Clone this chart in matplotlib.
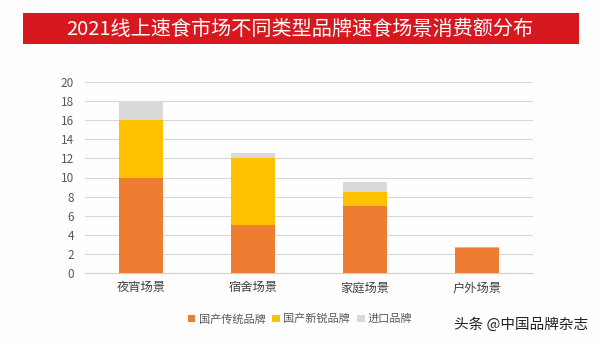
import numpy as np
import matplotlib
matplotlib.use("Agg")
import matplotlib.pyplot as plt
from matplotlib.patches import Rectangle, Patch

plt.rcParams['font.family'] = ['Noto Sans CJK SC', 'DejaVu Sans']

# data
categories = ['夜宵场景', '宿舍场景', '家庭场景', '户外场景']
series_names = ['国产传统品牌', '国产新锐品牌', '进口品牌']
traditional = [10, 5, 7, 2.6]
new_brand = [6, 7, 1.5, 0.1]
imported = [2, 0.6, 1, 0]
yticks = [0, 2, 4, 6, 8, 10, 12, 14, 16, 18, 20]

colors = ['#ED7D31', '#FFC000', '#D9D9D9']
title = '2021线上速食市场不同类型品牌速食场景消费额分布'
watermark = '头条 @中国品牌杂志'

fig = plt.figure(figsize=(6, 3.44), dpi=100)
fig.patch.set_facecolor('#FEFEFE')

# red title banner
fig.patches.append(Rectangle((23/600, 1-44/344), 556/600, 31/344,
                             transform=fig.transFigure, facecolor='#D7181F',
                             edgecolor='none', zorder=0))
fig.text(0.5, 1-29/344, title, color='white', fontsize=14.5,
         ha='center', va='center')

ax = fig.add_axes([85/600, 1-273/344, 448/600, 191/344])
ax.set_facecolor('none')
x = np.arange(len(categories))
w = 0.4
series = [traditional, new_brand, imported]
bottom = np.zeros(len(categories))
for vals, c, name in zip(series, colors, series_names):
    ax.bar(x, vals, w, bottom=bottom, color=c, label=name, zorder=3)
    bottom += np.array(vals)

ax.set_xlim(-0.5, 3.5)
ax.set_ylim(0, 20)
ax.set_yticks(yticks)
ax.set_xticks(x)
ax.set_xticklabels(categories, fontsize=8.8, color='#404040')
ax.tick_params(axis='y', labelsize=8.5, colors='#595959', length=0, pad=8)
ax.tick_params(axis='x', length=0, pad=6)
ax.grid(axis='y', color='#D9D9D9', linewidth=0.8, zorder=0)
for s in ['top', 'right', 'left']:
    ax.spines[s].set_visible(False)
ax.spines['bottom'].set_color('#D0D0D0')

handles = [Patch(facecolor=c, edgecolor='none') for c in colors]
fig.legend(handles, series_names, loc='center', bbox_to_anchor=(0.5, 1-319/344),
           ncol=3, frameon=False, fontsize=8, handlelength=0.7,
           handleheight=0.7, handletextpad=0.3, columnspacing=0.6,
           labelcolor='#595959')

fig.text(588/600, 1-325/344, watermark, fontsize=10.5, color='#222222',
         ha='right', va='center')

fig.savefig('out.png', dpi=100, facecolor=fig.get_facecolor())
